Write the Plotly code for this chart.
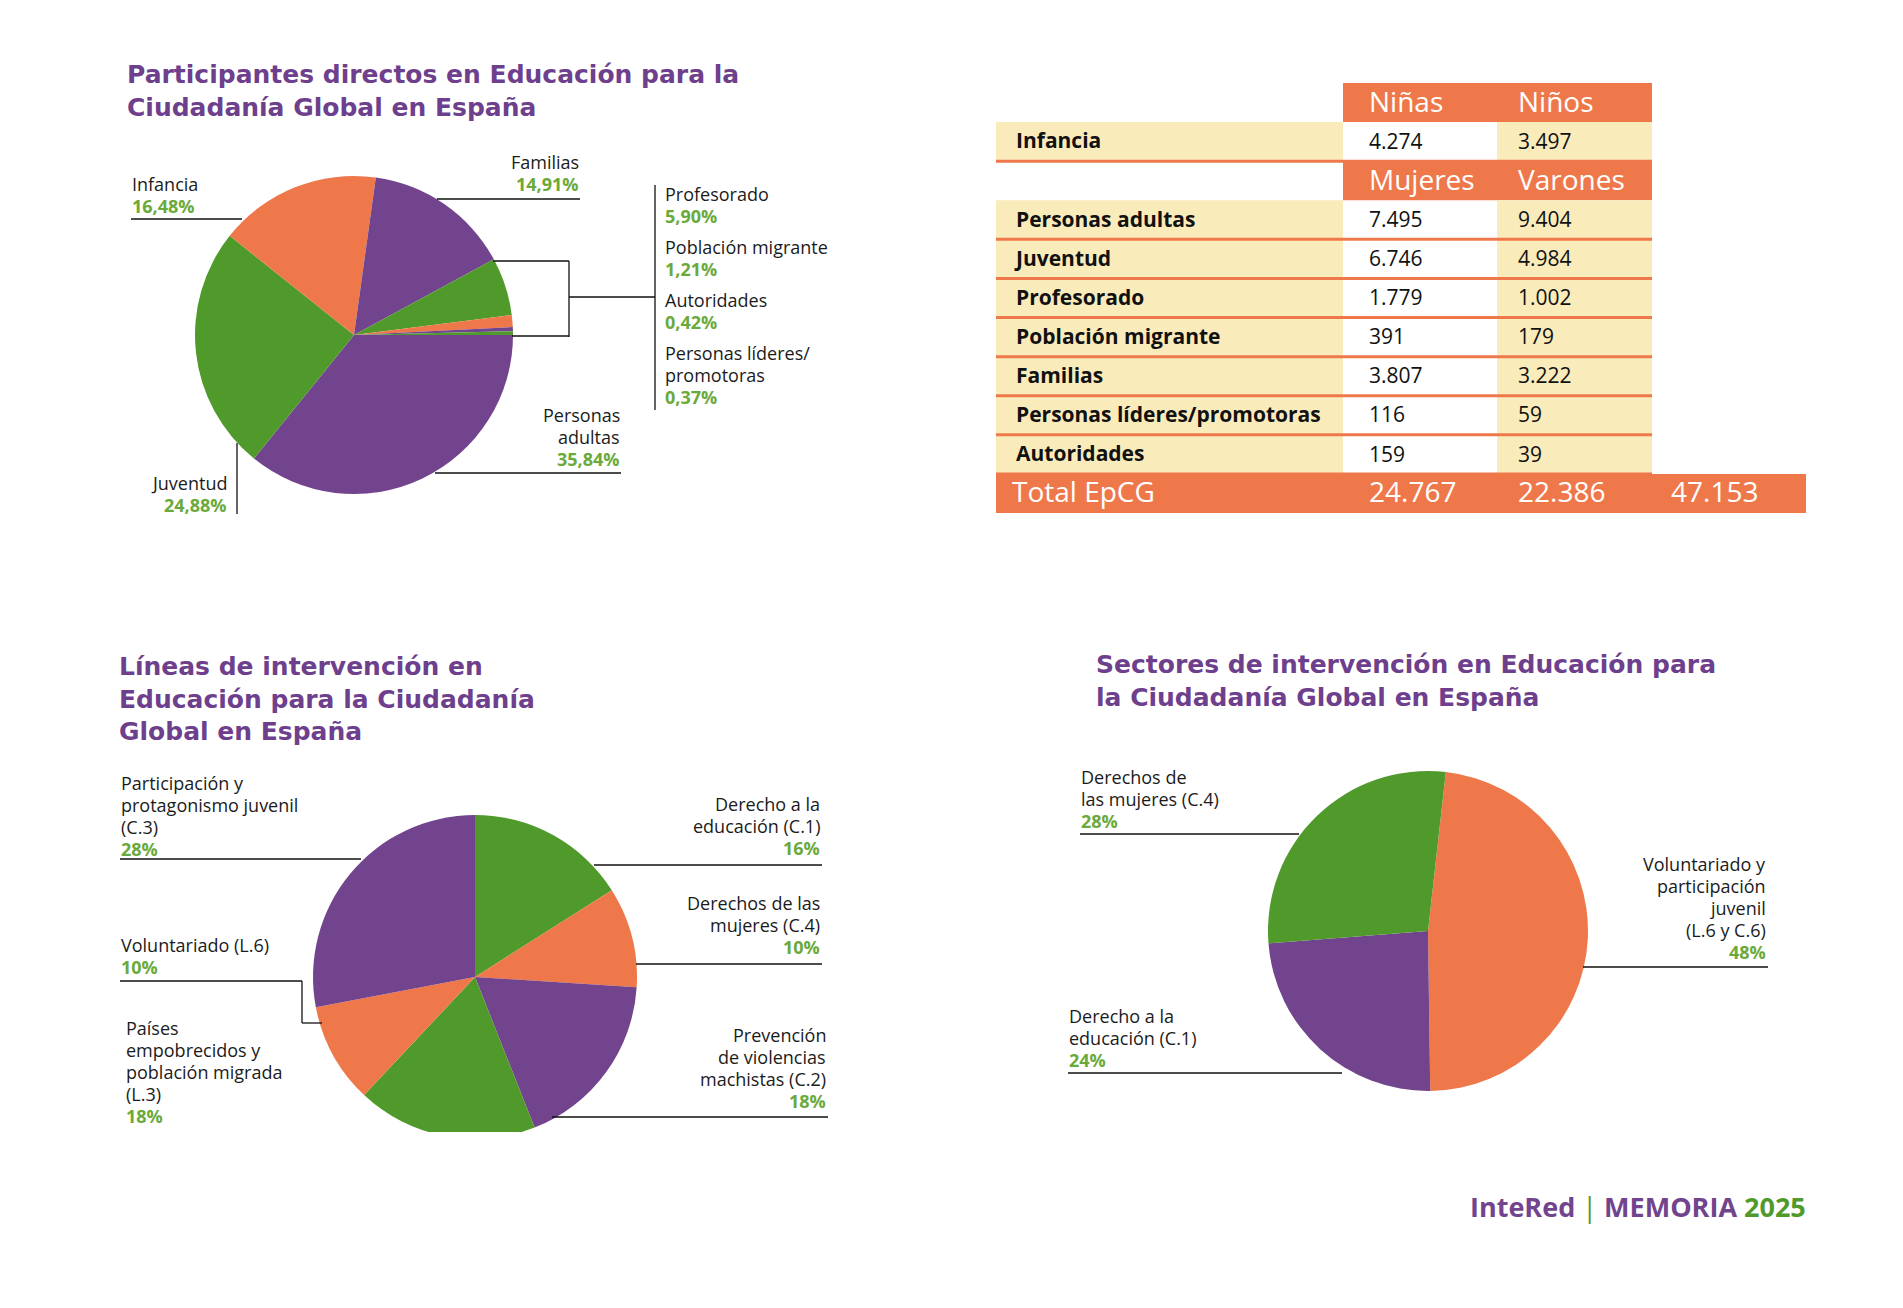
import plotly.graph_objects as go

W, H = 1903, 1308

PURPLE = "#72448d"
GREEN = "#4f9a2b"
ORANGE = "#ef784b"
CREAM = "#faebbb"
TITLE = "#6e3f8c"
PCT = "#6aaa3a"
INK = "#1b1b1b"
FONT = "Open Sans"
TITLE_FONT = "DejaVu Sans"

# --- chart 1: participantes directos ---
part_labels = ["Personas adultas", "Juventud", "Infancia", "Familias", "Profesorado",
               "Población migrante", "Autoridades", "Personas líderes/promotoras"]
part_pct = [35.84, 24.88, 16.48, 14.91, 5.90, 1.21, 0.42, 0.37]
part_colors = [PURPLE, GREEN, ORANGE, PURPLE, GREEN, ORANGE, PURPLE, GREEN]

# --- chart 2: lineas de intervencion ---
lineas_labels = ["Derecho a la educación (C.1)", "Derechos de las mujeres (C.4)",
                 "Prevención de violencias machistas (C.2)",
                 "Países empobrecidos y población migrada (L.3)",
                 "Voluntariado (L.6)", "Participación y protagonismo juvenil (C.3)"]
lineas_pct = [16, 10, 18, 18, 10, 28]
lineas_colors = [GREEN, ORANGE, PURPLE, GREEN, ORANGE, PURPLE]

# --- chart 3: sectores de intervencion ---
sectores_labels = ["Voluntariado y participación juvenil (L.6 y C.6)",
                   "Derecho a la educación (C.1)", "Derechos de las mujeres (C.4)"]
sectores_pct = [48, 24, 28]
sectores_colors = [ORANGE, PURPLE, GREEN]

# --- table ---
table_rows = ["Infancia", "Personas adultas", "Juventud", "Profesorado",
              "Población migrante", "Familias", "Personas líderes/promotoras",
              "Autoridades"]
mujeres = [4274, 7495, 6746, 1779, 391, 3807, 116, 159]
varones = [3497, 9404, 4984, 1002, 179, 3222, 59, 39]
header_infancia = ["Niñas", "Niños"]
header_adultos = ["Mujeres", "Varones"]
total_label = "Total EpCG"


def fx(x):
    return x / W


def fy(y):
    return 1 - y / H


def num(v):
    return f"{v:,}".replace(",", ".")


def pct2(v):
    return f"{v:.2f}".replace(".", ",") + "%"


def pct0(v):
    return f"{v:g}%"


annotations = []
shapes = []


def text_block(x, y0, lines, pct, align, pitch=22):
    for i, line in enumerate(lines + [pct]):
        last = i == len(lines)
        annotations.append(dict(
            x=fx(x), y=fy(y0 + i * pitch), xref="paper", yref="paper",
            text=f"<b>{line}</b>" if last else line, showarrow=False,
            xanchor=align, yanchor="middle", borderpad=0,
            font=dict(family=FONT, size=18, color=PCT if last else INK)))


def title_block(x, y0, lines, pitch=30):
    # one annotation per title, centred on the middle of the reference lines
    yc = y0 + pitch * (len(lines) - 1) / 2
    annotations.append(dict(
        x=fx(x), y=fy(yc), xref="paper", yref="paper",
        text="<br>".join(f"<b>{line}</b>" for line in lines), showarrow=False,
        xanchor="left", yanchor="middle", align="left", borderpad=0,
        font=dict(family=TITLE_FONT, size=25, color=TITLE)))


def seg(x0, y0, x1, y1):
    shapes.append(dict(type="line", xref="paper", yref="paper",
                       x0=fx(x0), y0=fy(y0), x1=fx(x1), y1=fy(y1),
                       line=dict(color="#111111", width=1.3)))


def pie(values, labels, colors, rotation, box):
    x0, y0, x1, y1 = box
    return go.Pie(values=values, labels=labels, sort=False, direction="clockwise",
                  rotation=rotation, textinfo="none", showlegend=False,
                  hovertemplate="%{label}: %{value}%<extra></extra>",
                  marker=dict(colors=colors, line=dict(width=0)),
                  domain=dict(x=[fx(x0), fx(x1)], y=[fy(y1), fy(y0)]))


fig = go.Figure()
fig.add_trace(pie(part_pct, part_labels, part_colors, 90, (195, 176, 513, 494)))
fig.add_trace(pie(lineas_pct, lineas_labels, lineas_colors, 0, (313, 815, 637, 1139)))
fig.add_trace(pie(sectores_pct, sectores_labels, sectores_colors, 6.4, (1268, 771, 1588, 1091)))

# chart 1 texts
title_block(126, 76, ["Participantes directos en Educación para la",
                      "Ciudadanía Global en España"])
p = dict(zip(part_labels, part_pct))
text_block(131, 184, ["Infancia"], pct2(p["Infancia"]), "left")
text_block(580, 162, ["Familias"], pct2(p["Familias"]), "right")
text_block(664, 194, ["Profesorado"], pct2(p["Profesorado"]), "left")
text_block(664, 247, ["Población migrante"], pct2(p["Población migrante"]), "left")
text_block(664, 300, ["Autoridades"], pct2(p["Autoridades"]), "left")
text_block(664, 353, ["Personas líderes/", "promotoras"],
           pct2(p["Personas líderes/promotoras"]), "left")
text_block(621, 415, ["Personas", "adultas"], pct2(p["Personas adultas"]), "right")
text_block(228, 483, ["Juventud"], pct2(p["Juventud"]), "right")
seg(131, 219, 242, 219)
seg(437, 199, 580, 199)
seg(493, 261, 569, 261)
seg(569, 261, 569, 337)
seg(512, 336, 569, 336)
seg(569, 297, 655, 297)
seg(655, 185, 655, 410)
seg(435, 473, 621, 473)
seg(237, 443, 237, 514)

# chart 2 texts
title_block(118, 669, ["Líneas de intervención en", "Educación para la Ciudadanía",
                       "Global en España"])
text_block(120, 783, ["Participación y", "protagonismo juvenil", "(C.3)"],
           pct0(lineas_pct[5]), "left")
text_block(821, 804, ["Derecho a la", "educación (C.1)"], pct0(lineas_pct[0]), "right")
text_block(821, 903, ["Derechos de las", "mujeres (C.4)"], pct0(lineas_pct[1]), "right")
text_block(120, 945, ["Voluntariado (L.6)"], pct0(lineas_pct[4]), "left")
text_block(125, 1028, ["Países", "empobrecidos y", "población migrada", "(L.3)"],
           pct0(lineas_pct[3]), "left")
text_block(827, 1035, ["Prevención", "de violencias", "machistas (C.2)"],
           pct0(lineas_pct[2]), "right")
seg(120, 859, 361, 859)
seg(594, 865, 822, 865)
seg(636, 964, 822, 964)
seg(120, 981, 302, 981)
seg(302, 981, 302, 1023)
seg(302, 1023, 322, 1023)
seg(552, 1117, 828, 1117)
# the pie is cut flat at the bottom in the source
shapes.append(dict(type="rect", xref="paper", yref="paper", layer="above",
                   x0=fx(300), x1=fx(650), y0=fy(1150), y1=fy(1132),
                   fillcolor="white", line=dict(width=0)))

# chart 3 texts
title_block(1095, 666, ["Sectores de intervención en Educación para",
                        "la Ciudadanía Global en España"])
text_block(1080, 777, ["Derechos de", "las mujeres (C.4)"], pct0(sectores_pct[2]), "left")
text_block(1767, 864, ["Voluntariado y", "participación", "juvenil", "(L.6 y C.6)"],
           pct0(sectores_pct[0]), "right")
text_block(1068, 1016, ["Derecho a la", "educación (C.1)"], pct0(sectores_pct[1]), "left")
seg(1080, 834, 1299, 834)
seg(1583, 967, 1768, 967)
seg(1068, 1073, 1342, 1073)

# --- table on its own hidden axes (x in px from table left, y in rows) ---
col_edges = [0, 347, 501, 656, 810]
col_text = [20, 373, 522, 675]
n_rows = len(table_rows) + 3


def cell(c, r, color):
    shapes.append(dict(type="rect", xref="x", yref="y", layer="below",
                       x0=col_edges[c], x1=col_edges[c + 1], y0=r, y1=r + 1,
                       fillcolor=color, line=dict(width=0)))


body_rows = []
header_rows = []
r = 0
for i, name in enumerate(table_rows):
    if i == 0:
        header_rows.append((r, header_infancia))
        r += 1
    elif i == 1:
        header_rows.append((r, header_adultos))
        r += 1
    body_rows.append((r, name, mujeres[i], varones[i]))
    r += 1
total_row = r

for hr, _ in header_rows:
    cell(1, hr, ORANGE)
    cell(2, hr, ORANGE)
for br, *_ in body_rows:
    cell(0, br, CREAM)
    cell(2, br, CREAM)
for c in range(4):
    cell(c, total_row, ORANGE)
for br, *_ in body_rows:
    shapes.append(dict(type="line", xref="x", yref="y", x0=0, x1=col_edges[3],
                       y0=br + 1, y1=br + 1, line=dict(color=ORANGE, width=3)))

fig.add_trace(go.Scatter(
    x=[col_text[0]] * len(body_rows), y=[b[0] + 0.54 for b in body_rows],
    text=[f"<b>{b[1]}</b>" for b in body_rows], mode="text",
    textposition="middle right", hoverinfo="skip", showlegend=False,
    textfont=dict(family=FONT, size=21, color="#111111")))
fig.add_trace(go.Scatter(
    x=[col_text[1]] * len(body_rows) + [col_text[2]] * len(body_rows),
    y=[b[0] + 0.55 for b in body_rows] * 2,
    text=[num(b[2]) for b in body_rows] + [num(b[3]) for b in body_rows],
    mode="text", textposition="middle right", hoverinfo="skip", showlegend=False,
    textfont=dict(family=FONT, size=21, color="#111111")))
fig.add_trace(go.Scatter(
    x=[col_text[1], col_text[2]] * len(header_rows),
    y=[h[0] + 0.56 for h in header_rows for _ in range(2)],
    text=[t for h in header_rows for t in h[1]],
    mode="text", textposition="middle right", hoverinfo="skip", showlegend=False,
    textfont=dict(family=FONT, size=28, color="white")))
tot_m, tot_v = sum(mujeres), sum(varones)
fig.add_trace(go.Scatter(
    x=[16, col_text[1], col_text[2], col_text[3]], y=[total_row + 0.55] * 4,
    text=[total_label, num(tot_m), num(tot_v), num(tot_m + tot_v)],
    mode="text", textposition="middle right", hoverinfo="skip", showlegend=False,
    textfont=dict(family=FONT, size=28, color="white")))

# footer
annotations.append(dict(
    x=fx(1807), y=fy(1206), xref="paper", yref="paper", showarrow=False,
    xanchor="right", yanchor="middle", borderpad=0,
    text=f"<b>InteRed</b> <span style='color:{GREEN}'>|</span> "
         f"<b>MEMORIA <span style='color:{GREEN}'>2025</span></b>",
    font=dict(family=FONT, size=27, color=PURPLE)))

fig.update_layout(
    width=W, height=H, margin=dict(l=0, r=0, t=0, b=0),
    paper_bgcolor="white", plot_bgcolor="rgba(0,0,0,0)",
    xaxis=dict(domain=[fx(996), fx(996 + col_edges[-1])], range=[0, col_edges[-1]],
               visible=False, fixedrange=True),
    yaxis=dict(domain=[fy(513), fy(83)], range=[n_rows, 0],
               visible=False, fixedrange=True),
    shapes=shapes, annotations=annotations,
)

fig.write_html("out.html", config={"displayModeBar": False},
               post_script="document.body.style.margin='0';"
                           "document.body.style.overflow='hidden';")
